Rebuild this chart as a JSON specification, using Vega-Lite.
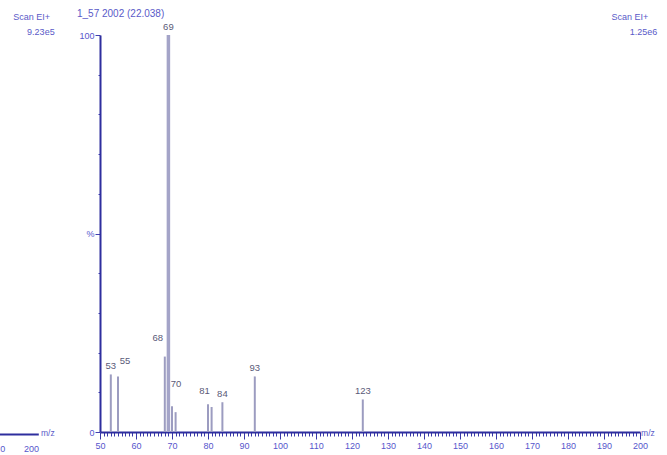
{
  "$schema": "https://vega.github.io/schema/vega-lite/v6.json",
  "autosize": "none",
  "width": 540,
  "height": 397,
  "padding": {"left": 100, "top": 35, "right": 27, "bottom": 23},
  "background": "white",
  "config": {
    "view": {"stroke": null},
    "font": "Liberation Sans",
    "text": {"font": "Liberation Sans", "fontSize": 9, "fontWeight": "normal"}
  },
  "data": {
    "values": [
      {"mz": 53, "pct": 14.5, "label": "53"},
      {"mz": 55, "pct": 14.0, "label": "55"},
      {"mz": 68, "pct": 19.0, "label": "68"},
      {"mz": 69, "pct": 100, "label": "69"},
      {"mz": 70, "pct": 6.5, "label": "70"},
      {"mz": 71, "pct": 5.0, "label": ""},
      {"mz": 80, "pct": 7.0, "label": ""},
      {"mz": 81, "pct": 6.3, "label": "81"},
      {"mz": 84, "pct": 7.5, "label": "84"},
      {"mz": 93, "pct": 14.0, "label": "93"},
      {"mz": 123, "pct": 8.2, "label": "123"}
    ]
  },
  "encoding": {
    "x": {
      "field": "mz",
      "type": "quantitative",
      "scale": {"domain": [50, 200], "nice": false, "zero": false},
      "axis": {
        "title": null,
        "values": [50,51,52,53,54,55,56,57,58,59,60,61,62,63,64,65,66,67,68,69,70,71,72,73,74,75,76,77,78,79,80,81,82,83,84,85,86,87,88,89,90,91,92,93,94,95,96,97,98,99,100,101,102,103,104,105,106,107,108,109,110,111,112,113,114,115,116,117,118,119,120,121,122,123,124,125,126,127,128,129,130,131,132,133,134,135,136,137,138,139,140,141,142,143,144,145,146,147,148,149,150,151,152,153,154,155,156,157,158,159,160,161,162,163,164,165,166,167,168,169,170,171,172,173,174,175,176,177,178,179,180,181,182,183,184,185,186,187,188,189,190,191,192,193,194,195,196,197,198,199,200],
        "labelExpr": "datum.value % 10 === 0 ? datum.value : ''",
        "labelOverlap": false,
        "labelFlush": false,
        "labelBound": false,
        "labelFontSize": 9,
        "labelColor": "#5656cc",
        "labelPadding": 2,
        "domainColor": "#2e2e9e",
        "domainWidth": 2,
        "tickColor": "#3838a8",
        "tickWidth": 1,
        "tickSize": {"condition": {"test": "datum.value % 10 === 0", "value": 7}, "value": 4},
        "grid": false
      }
    },
    "y": {
      "field": "pct",
      "type": "quantitative",
      "scale": {"domain": [0, 100], "nice": false},
      "axis": {
        "title": null,
        "values": [0, 10, 20, 30, 40, 50, 60, 70, 80, 90, 100],
        "labelExpr": "datum.value === 50 ? '%' : (datum.value === 0 || datum.value === 100 ? datum.value : '')",
        "labelFontSize": 9,
        "labelColor": "#5656cc",
        "labelPadding": 1,
        "labelFlush": false,
        "domainColor": "#2e2e9e",
        "domainWidth": 2,
        "tickColor": "#4040b0",
        "tickSize": {"condition": {"test": "datum.value % 50 === 0", "value": 5}, "value": 2},
        "grid": false
      }
    }
  },
  "layer": [
    {
      "mark": {"type": "rule", "color": "#9c9cc0", "strokeWidth": 2},
      "encoding": {"y2": {"datum": 0}}
    },
    {
      "transform": [{"filter": "datum.mz === 69"}],
      "mark": {"type": "rule", "color": "#a4a4c8", "strokeWidth": 3.5},
      "encoding": {"y2": {"datum": 0}}
    },
    {
      "transform": [{"filter": "indexof([53, 69, 84, 93, 123], datum.mz) >= 0"}],
      "mark": {"type": "text", "baseline": "bottom", "dy": -3, "color": "#5a5a78", "fontSize": 9.5},
      "encoding": {"text": {"field": "label"}}
    },
    {
      "transform": [{"filter": "datum.mz === 55"}],
      "mark": {"type": "text", "baseline": "bottom", "dx": 7, "dy": -10, "color": "#5a5a78", "fontSize": 9.5},
      "encoding": {"text": {"field": "label"}}
    },
    {
      "transform": [{"filter": "datum.mz === 68"}],
      "mark": {"type": "text", "baseline": "bottom", "dx": -7, "dy": -14, "color": "#5a5a78", "fontSize": 9.5},
      "encoding": {"text": {"field": "label"}}
    },
    {
      "transform": [{"filter": "datum.mz === 70"}],
      "mark": {"type": "text", "baseline": "bottom", "dx": 4, "dy": -17, "color": "#5a5a78", "fontSize": 9.5},
      "encoding": {"text": {"field": "label"}}
    },
    {
      "transform": [{"filter": "datum.mz === 81"}],
      "mark": {"type": "text", "baseline": "bottom", "dx": -7, "dy": -11, "color": "#5a5a78", "fontSize": 9.5},
      "encoding": {"text": {"field": "label"}}
    },
    {
      "transform": [{"filter": "datum.mz === 69"}],
      "mark": {"type": "text", "text": "1_57 2002 (22.038)", "align": "left", "baseline": "middle", "color": "#5a5ac8", "fontSize": 10, "clip": false},
      "encoding": {"x": {"datum": 43.6}, "y": {"datum": 105.3}}
    },
    {
      "transform": [{"filter": "datum.mz === 69"}],
      "mark": {"type": "text", "text": "Scan EI+", "align": "right", "baseline": "middle", "color": "#5a5ac8", "fontSize": 9, "clip": false},
      "encoding": {"x": {"datum": 36.1}, "y": {"datum": 104.5}}
    },
    {
      "transform": [{"filter": "datum.mz === 69"}],
      "mark": {"type": "text", "text": "9.23e5", "align": "right", "baseline": "middle", "color": "#5a5ac8", "fontSize": 9, "clip": false},
      "encoding": {"x": {"datum": 37.4}, "y": {"datum": 100.7}}
    },
    {
      "transform": [{"filter": "datum.mz === 69"}],
      "mark": {"type": "text", "text": "Scan EI+", "align": "right", "baseline": "middle", "color": "#5a5ac8", "fontSize": 9, "clip": false},
      "encoding": {"x": {"datum": 202.3}, "y": {"datum": 104.5}}
    },
    {
      "transform": [{"filter": "datum.mz === 69"}],
      "mark": {"type": "text", "text": "1.25e6", "align": "right", "baseline": "middle", "color": "#5a5ac8", "fontSize": 9, "clip": false},
      "encoding": {"x": {"datum": 204.8}, "y": {"datum": 100.7}}
    },
    {
      "transform": [{"filter": "datum.mz === 69"}],
      "mark": {"type": "text", "text": "m/z", "align": "left", "baseline": "middle", "color": "#5a5ac8", "fontSize": 8.5, "clip": false},
      "encoding": {"x": {"datum": 200.3}, "y": {"datum": -0.3}}
    },
    {
      "transform": [{"filter": "datum.mz === 69"}],
      "mark": {"type": "rule", "color": "#2e2e9e", "strokeWidth": 2, "clip": false},
      "encoding": {"x": {"datum": 22.2}, "x2": {"datum": 33.0}, "y": {"datum": -0.6}}
    },
    {
      "transform": [{"filter": "datum.mz === 69"}],
      "mark": {"type": "text", "text": "m/z", "align": "left", "baseline": "middle", "color": "#5a5ac8", "fontSize": 8.5, "clip": false},
      "encoding": {"x": {"datum": 33.6}, "y": {"datum": -0.3}}
    },
    {
      "transform": [{"filter": "datum.mz === 69"}],
      "mark": {"type": "text", "text": "200", "align": "center", "baseline": "middle", "color": "#5656cc", "fontSize": 9, "clip": false},
      "encoding": {"x": {"datum": 31.0}, "y": {"datum": -4.3}}
    },
    {
      "transform": [{"filter": "datum.mz === 69"}],
      "mark": {"type": "text", "text": "0", "align": "center", "baseline": "middle", "color": "#5656cc", "fontSize": 9, "clip": false},
      "encoding": {"x": {"datum": 23.0}, "y": {"datum": -4.3}}
    }
  ]
}
